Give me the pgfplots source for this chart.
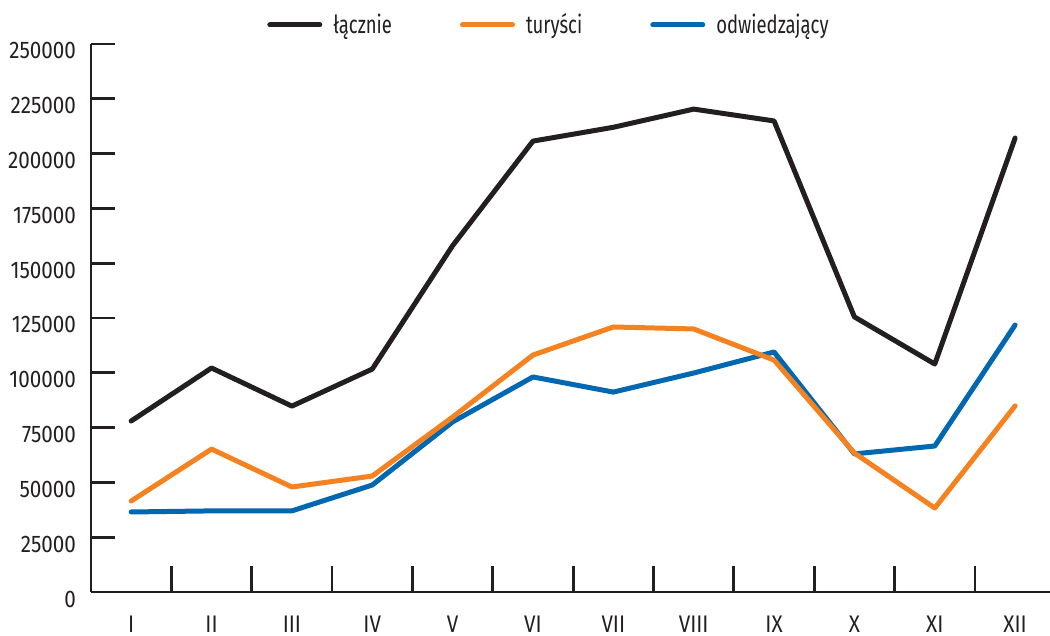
\documentclass[border=0pt]{standalone}
\usepackage{fontspec}
\setmainfont{Fira Sans}[FakeStretch=0.74]
\newfontfamily\tickfont{Fira Sans}[FakeStretch=0.86]
\usepackage{pgfplots}
\pgfplotsset{compat=1.18}
\definecolor{cblack}{HTML}{231F20}
\definecolor{corange}{HTML}{F58220}
\definecolor{cblue}{HTML}{0067B1}
\begin{document}
\begin{tikzpicture}
\begin{axis}[name=ax, scale only axis, width=479.5pt, height=274pt,
  xmin=-0.5, xmax=11.434, ymin=0, ymax=250000,
  axis lines=left, axis line style={-, line width=1.4pt, color=cblack},
  xtick={0,...,11}, xticklabels={I,II,III,IV,V,VI,VII,VIII,IX,X,XI,XII},
  minor xtick={0.5,1.5,...,10.5},
  major x tick style={draw=none},
  ytick={0,25000,...,250000},
  scaled y ticks=false,
  tick align=inside, major tick length=12pt, minor tick length=13pt,
  tick style={line width=1.4pt, color=cblack},
  /pgf/number format/assume math mode=true,
  yticklabel style={/pgf/number format/fixed, /pgf/number format/1000 sep={}, xshift=-4pt, yshift=-3.5pt},
  xticklabel style={yshift=-8.5pt},
  ticklabel style={font=\tickfont\fontsize{12}{14}\selectfont, text=cblack},
  legend style={at={(0.4786,1.0347)}, anchor=center, draw=none, fill=none, legend columns=-1,
    font=\fontsize{12.5}{14}\selectfont, text=cblack,
    /tikz/every even column/.append style={column sep=32pt}},
  legend image code/.code={\draw[#1] (0pt,0pt) -- (25pt,0pt); \path (28.5pt,0pt);},
  every axis plot/.append style={line width=2.5pt, line cap=round, line join=round},
]
\addlegendimage{cblack, line width=2.5pt}
\addlegendentry{łącznie}
\addlegendimage{corange, line width=2.5pt}
\addlegendentry{turyści}
\addlegendimage{cblue, line width=2.5pt}
\addlegendentry{odwiedzający}
\addplot[cblack, forget plot] coordinates {(0,78000)(1,102200)(2,84800)(3,101700)(4,158000)(5,205700)(6,212000)(7,220300)(8,214900)(9,125500)(10,104000)(11,207100)};
\addplot[cblue, forget plot] coordinates {(0,36500)(1,37000)(2,37000)(3,48800)(4,77600)(5,98100)(6,91200)(7,99900)(8,109500)(9,63000)(10,66600)(11,121800)};
\addplot[corange, forget plot] coordinates {(0,41500)(1,65200)(2,47900)(3,52900)(4,79800)(5,108100)(6,120900)(7,120000)(8,105800)(9,63400)(10,38300)(11,84900)};
\end{axis}
\pgfresetboundingbox
\path ([shift={(-45.5pt,-22pt)}]ax.south west) rectangle ([shift={(0pt,22pt)}]ax.north east);
\end{tikzpicture}
\end{document}
